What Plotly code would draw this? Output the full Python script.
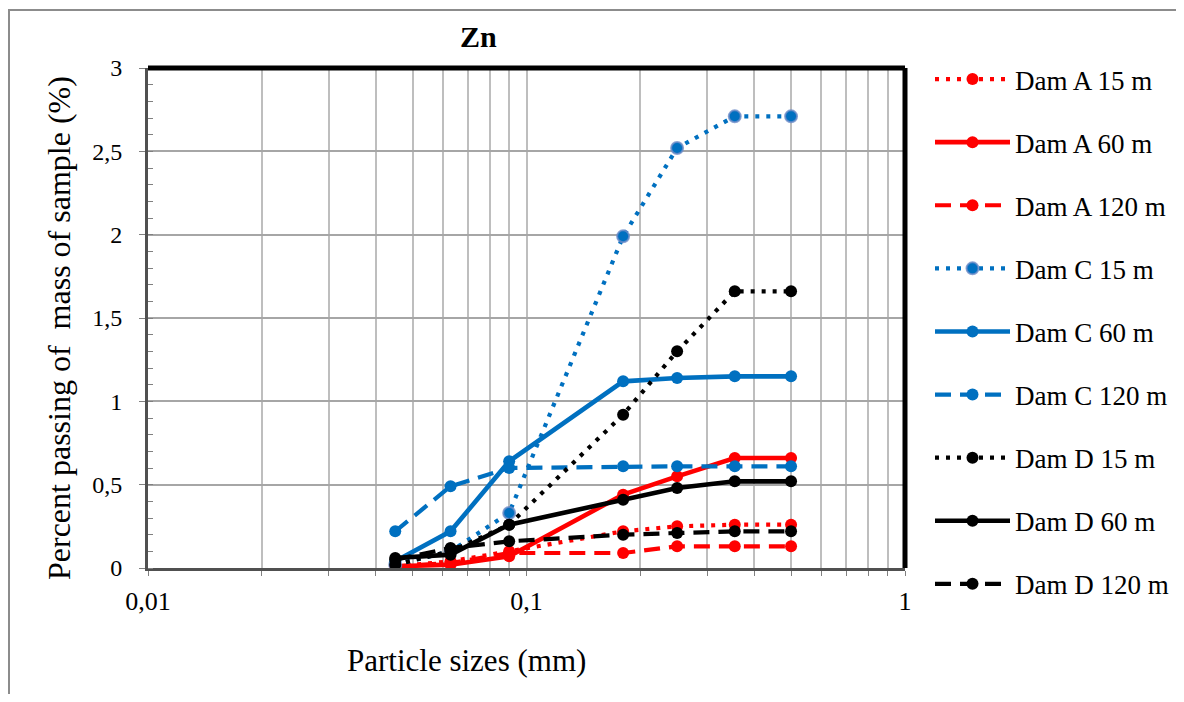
import plotly.graph_objects as go

sizes = [0.045, 0.063, 0.09, 0.18, 0.25, 0.355, 0.5]
dam_a_15 = [0.01, 0.04, 0.10, 0.22, 0.25, 0.26, 0.26]
dam_a_60 = [0.01, 0.02, 0.07, 0.44, 0.55, 0.66, 0.66]
dam_a_120 = [0.01, 0.03, 0.09, 0.09, 0.13, 0.13, 0.13]
dam_c_15 = [0.02, 0.10, 0.33, 1.99, 2.52, 2.71, 2.71]
dam_c_60 = [0.04, 0.22, 0.64, 1.12, 1.14, 1.15, 1.15]
dam_c_120 = [0.22, 0.49, 0.60, 0.61, 0.61, 0.61, 0.61]
dam_d_15 = [0.02, 0.10, 0.26, 0.92, 1.30, 1.66, 1.66]
dam_d_60 = [0.06, 0.08, 0.26, 0.41, 0.48, 0.52, 0.52]
dam_d_120 = [0.05, 0.12, 0.16, 0.20, 0.21, 0.22, 0.22]

names = ["Dam A 15 m", "Dam A 60 m", "Dam A 120 m",
         "Dam C 15 m", "Dam C 60 m", "Dam C 120 m",
         "Dam D 15 m", "Dam D 60 m", "Dam D 120 m"]
series = [dam_a_15, dam_a_60, dam_a_120, dam_c_15, dam_c_60, dam_c_120,
          dam_d_15, dam_d_60, dam_d_120]
colors = ["#FF0000"] * 3 + ["#0070C0"] * 3 + ["#000000"] * 3
dashes = ["4px,7px", "solid", "16px,9px"] * 3

x_tickvals = [0.01, 0.02, 0.03, 0.04, 0.05, 0.06, 0.07, 0.08, 0.09,
              0.1, 0.2, 0.3, 0.4, 0.5, 0.6, 0.7, 0.8, 0.9, 1]
x_ticktext = ["0,01"] + [""] * 8 + ["0,1"] + [""] * 8 + ["1"]
y_tickvals = [0, 0.5, 1, 1.5, 2, 2.5, 3]
y_ticktext = ["0", "0,5", "1", "1,5", "2", "2,5", "3"]

FONT = "Liberation Serif"

fig = go.Figure()
for i, (nm, ys, c, d) in enumerate(zip(names, series, colors, dashes)):
    mline = dict(width=0)
    if nm == "Dam C 15 m":
        mline = dict(width=2, color="rgba(110,140,200,0.8)")
    fig.add_trace(go.Scatter(
        x=sizes, y=ys, name=nm, mode="lines+markers",
        line=dict(color=c, width=4.2 if d != "solid" else 4.6, dash=d),
        marker=dict(color=c, size=12, line=mline),
        legendgroup=str(i),
    ))

# figure coordinates (page body has an 8px offset)
W, H = 1168, 686
L, R, T, B = 140, 897, 60, 560

def px_x(p):
    return (p - L) / (R - L)

def px_y(p):
    return (B - p) / (B - T)

fig.update_layout(
    width=W, height=H,
    margin=dict(l=L, r=W - R, t=T, b=H - B, autoexpand=False),
    paper_bgcolor="white", plot_bgcolor="white",
    font=dict(family=FONT, size=22, color="black"),
    showlegend=True,
    legend=dict(x=px_x(922), y=px_y(47), xanchor="left", yanchor="top",
                font=dict(family=FONT, size=27), tracegroupgap=25,
                itemwidth=75, maxheight=680,
                bgcolor="rgba(0,0,0,0)"),
    xaxis=dict(type="log", range=[-2, 0], tickvals=x_tickvals, ticktext=x_ticktext,
               showgrid=True, gridcolor="#BEBEBE", gridwidth=1.5,
               showline=True, linecolor="#505050", linewidth=3,
               ticks="outside", ticklen=5, tickcolor="#808080",
               ticklabelstandoff=3,
               tickfont=dict(family=FONT, size=26), zeroline=False),
    yaxis=dict(range=[0, 3], tickvals=y_tickvals, ticktext=y_ticktext,
               showgrid=True, gridcolor="#A6A6A6", gridwidth=1.5,
               showline=True, linecolor="#505050", linewidth=3,
               ticks="outside", ticklen=6, tickcolor="#808080",
               ticklabelstandoff=12,
               minor=dict(dtick=0.1, ticks="inside", ticklen=5, tickcolor="#808080", showgrid=False),
               tickfont=dict(family=FONT, size=24), zeroline=False),
    annotations=[
        dict(text="<b>Zn</b>", x=px_x(470), y=px_y(29), xref="paper", yref="paper",
             xanchor="center", yanchor="middle",
             showarrow=False, font=dict(family=FONT, size=30)),
        dict(text="Particle sizes (mm)", x=px_x(458), y=px_y(652), xref="paper", yref="paper",
             xanchor="center", yanchor="middle",
             showarrow=False, font=dict(family=FONT, size=31)),
        dict(text="Percent passing of  mass of sample (%)", x=px_x(51), y=px_y(320),
             xref="paper", yref="paper", textangle=-90,
             xanchor="center", yanchor="middle",
             showarrow=False, font=dict(family=FONT, size=32)),
    ],
    shapes=[
        dict(type="line", xref="paper", yref="paper", x0=0, x1=1, y0=1, y1=1,
             line=dict(color="black", width=5)),
        dict(type="line", xref="paper", yref="paper", x0=1, x1=1, y0=0, y1=1,
             line=dict(color="black", width=5)),
        dict(type="rect", xref="paper", yref="paper", x0=px_x(1), x1=px_x(1200),
             y0=px_y(720), y1=px_y(2), line=dict(color="#8C8C8C", width=2), layer="below"),
    ],
)

fig.write_html("out.html")
